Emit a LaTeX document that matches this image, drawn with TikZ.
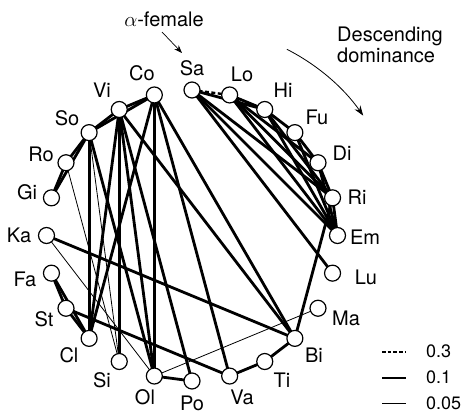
\documentclass[tikz,border=0pt]{standalone}
\usepackage{fontspec}
\setmainfont{TeX Gyre Heros}
\usetikzlibrary{arrows.meta}
\begin{document}
\begin{tikzpicture}[x=1pt,y=-1pt,
  animal/.style={circle,draw,fill=white,line width=1.2pt,minimum size=16pt,inner sep=0pt},
  lbl/.style={font=\fontsize{20}{24}\selectfont,inner sep=0pt},
  keylbl/.style={font=\fontsize{18}{22}\selectfont,inner sep=0pt,anchor=west},
  strong/.style={line width=2.4pt,dash pattern=on 4pt off 2.5pt},
  mid/.style={line width=2.8pt},
  weak/.style={line width=0.8pt}]
\useasboundingbox (0,0) rectangle (467,415);
% animals on a circle, ordered clockwise by dominance rank
\foreach \n/\a in {Sa/0,Lo/15,Hi/30,Fu/45,Di/60,Ri/75,Em/90,Lu/105,Ma/120,Bi/135,Ti/150,Va/165,
                   Po/180,Ol/195,Si/210,Cl/225,St/240,Fa/255,Ka/270,Gi/285,Ro/300,So/315,Vi/330,Co/345}
  \coordinate (\n) at ({192+145.5*sin(\a)},{235.5-145.5*cos(\a)});
% edges
\begin{scope}[line cap=round]
\draw[strong,line cap=butt] (Sa) -- (Lo);
\foreach \u/\v in {Sa/Hi,Sa/Ri,Sa/Em,Sa/Lu,Lo/Hi,Lo/Di,Lo/Ri,Lo/Em,Hi/Fu,Hi/Ri,Hi/Em,
                   Fu/Di,Fu/Em,Di/Ri,Di/Em,Ri/Em,Ri/Bi,
                   Co/Vi,Co/So,Vi/So,So/Ro,Ro/Gi,So/Gi,
                   Co/Cl,Co/Bi,Co/Va,Co/Ol,Vi/Si,Vi/Cl,Vi/Bi,Vi/Po,Vi/Ol,So/Cl,So/Ol,
                   Ka/Bi,Fa/St,Fa/Cl,St/Cl,St/Va,Va/Ti,Ti/Bi,Ol/Po}
  \draw[mid] (\u) -- (\v);
\foreach \u/\v in {Ka/Ol,Ro/Si,So/Si,Ol/Ma}
  \draw[weak] (\u) -- (\v);
\end{scope}
% node circles on top
\foreach \n in {Sa,Lo,Hi,Fu,Di,Ri,Em,Lu,Ma,Bi,Ti,Va,Po,Ol,Si,Cl,St,Fa,Ka,Gi,Ro,So,Vi,Co}
  \node[animal] (c\n) at (\n) {};
% labels
\foreach \n/\x/\y in {Sa/192/68,Lo/242/74,Hi/283/90,Fu/317/117,Di/342/153,Ri/357/197,Em/365/237,
                      Lu/366/277,Ma/346/318,Bi/314/355,Ti/282/380,Va/242/397,Po/192/403,Ol/145/397,
                      Si/102/380,Cl/69/355,St/44/319,Fa/25/279,Ka/19/235,Gi/27/192,Ro/41/154,
                      So/67/118,Vi/102/90,Co/142/73}
  \node[lbl] (t\n) at (\x,\y) {\n};
% annotations
\node[lbl] (alpha) at (164,19) {$\alpha$-female};
\coordinate (alphaTail) at (162,32);
\coordinate (alphaTip) at (182,53);
\draw[-{Stealth[length=8pt,width=6pt]},line width=0.7pt] (alphaTail) -- (alphaTip);
\node[lbl,align=left,anchor=north west] (dom) at (337,27) {Descending\\[-3pt]dominance};
\coordinate (arcStart) at ({192+209*sin(27)},{235.5-209*cos(27)});
\draw[-{Stealth[length=10pt,width=7pt]},line width=0.8pt]
  (arcStart) arc[start angle=-63,end angle=-35,radius=209];
% legend
\coordinate (l1a) at (382,352); \coordinate (l1b) at (406,352);
\coordinate (l2a) at (382,378); \coordinate (l2b) at (406,378);
\coordinate (l3a) at (382,403); \coordinate (l3b) at (406,403);
\draw[line width=1.6pt,dash pattern=on 3.5pt off 2.2pt] (l1a) -- (l1b);
\draw[mid] (l2a) -- (l2b);
\draw[weak] (l3a) -- (l3b);
\node[keylbl] (k1) at (426,351) {0.3};
\node[keylbl] (k2) at (426,377) {0.1};
\node[keylbl] (k3) at (426,403) {0.05};
\end{tikzpicture}
\end{document}
